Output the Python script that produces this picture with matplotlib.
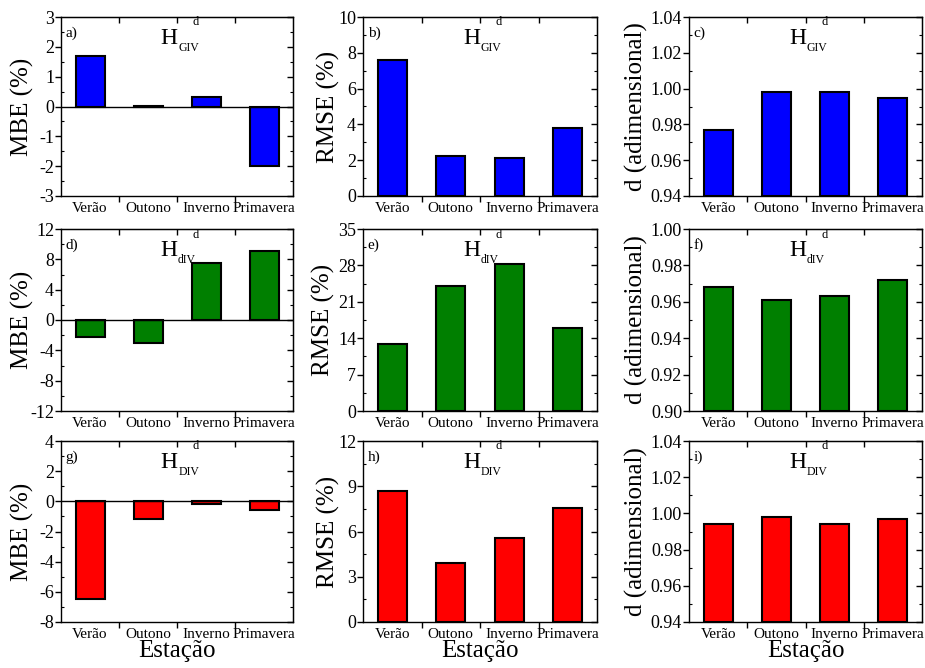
import matplotlib
matplotlib.use('Agg')
import matplotlib.pyplot as plt
import matplotlib.transforms as mtransforms
from matplotlib.ticker import MultipleLocator, FormatStrFormatter
import numpy as np

plt.rcParams['font.family'] = 'Liberation Serif'
plt.rcParams['axes.unicode_minus'] = False

estacoes = ['Verão', 'Outono', 'Inverno', 'Primavera']

# linha 1: H_GIV
mbe_giv = [1.68, 0.02, 0.31, -2.0]
rmse_giv = [7.57, 2.25, 2.13, 3.78]
d_giv = [0.977, 0.998, 0.998, 0.995]
# linha 2: H_dIV
mbe_div = [-2.25, -3.05, 7.55, 9.15]
rmse_div = [12.9, 24.1, 28.3, 16.0]
d_div = [0.968, 0.961, 0.963, 0.972]
# linha 3: H_DIV
mbe_DIV = [-6.5, -1.15, -0.15, -0.6]
rmse_DIV = [8.68, 3.92, 5.6, 7.55]
d_DIV = [0.994, 0.998, 0.994, 0.997]

linhas = [
    ('GIV', '#0000FF', [mbe_giv, rmse_giv, d_giv]),
    ('dIV', '#007F00', [mbe_div, rmse_div, d_div]),
    ('DIV', '#FF0000', [mbe_DIV, rmse_DIV, d_DIV]),
]
letras = ['a)', 'b)', 'c)', 'd)', 'e)', 'f)', 'g)', 'h)', 'i)']
ylabels = ['MBE (%)', 'RMSE (%)', 'd (adimensional)']
# (ymin, ymax, major, minor, formato)
escalas = [
    [(-3, 3, 1, 0.5, '%d'), (0, 10, 2, 1, '%d'), (0.94, 1.04, 0.02, 0.01, '%.2f')],
    [(-12, 12, 4, 2, '%d'), (0, 35, 7, 3.5, '%d'), (0.90, 1.00, 0.02, 0.01, '%.2f')],
    [(-8, 4, 2, 1, '%d'), (0, 12, 3, 1.5, '%d'), (0.94, 1.04, 0.02, 0.01, '%.2f')],
]

W, H = 925, 668
fig = plt.figure(figsize=(W / 100, H / 100), dpi=100)

col_px = [(61, 232), (363, 234), (689, 233)]
row_px = [(17, 196), (229, 411), (441, 622)]
ylab_x = [[-0.116, -0.098, -0.176],
          [-0.116, -0.12, -0.176],
          [-0.116, -0.098, -0.176]]

x = np.arange(1, 5)
for r, (sub, cor, series) in enumerate(linhas):
    for c in range(3):
        left, width = col_px[c]
        top, bottom = row_px[r]
        ax = fig.add_axes([left / W, 1 - bottom / H, width / W, (bottom - top) / H])
        vals = np.array(series[c])
        ymin, ymax, maj, mnr, fmt = escalas[r][c]
        base = ymin if c == 2 else 0
        ax.bar(x, vals - base, width=0.5, bottom=base, color=cor,
               edgecolor='black', linewidth=1.5, zorder=2)
        if c == 0:
            ax.axhline(0, color='black', lw=1, zorder=3)
        ax.set_xlim(0.5, 4.5)
        ax.set_ylim(ymin, ymax)
        ax.yaxis.set_major_locator(MultipleLocator(maj))
        ax.yaxis.set_minor_locator(MultipleLocator(mnr))
        ax.yaxis.set_major_formatter(FormatStrFormatter(fmt))
        ax.set_xticks([1.5, 2.5, 3.5], minor=False)
        ax.set_xticks(x, minor=True)
        ax.set_xticklabels([])
        ax.set_xticklabels(estacoes, minor=True)
        ax.tick_params(axis='x', which='major', direction='out', length=4, width=1)
        ax.tick_params(axis='x', which='minor', length=0, labelsize=11, pad=4)
        ax.tick_params(axis='y', which='major', direction='out', length=4, width=1,
                       labelsize=13, pad=1)
        ax.tick_params(axis='y', which='minor', direction='in', length=2.5, width=0.8)
        # ticks no topo e na direita, para dentro
        ax2 = ax.secondary_yaxis('right')
        ax2.yaxis.set_major_locator(MultipleLocator(maj))
        ax2.yaxis.set_minor_locator(MultipleLocator(mnr))
        ax2.tick_params(which='major', direction='in', length=4, width=1, labelright=False)
        ax2.tick_params(which='minor', direction='in', length=2.5, width=0.8)
        ax3 = ax.secondary_xaxis('top')
        ax3.set_xticks([1.5, 2.5, 3.5])
        ax3.tick_params(direction='in', length=4, width=1, labeltop=False)
        for s in ax.spines.values():
            s.set_linewidth(1)

        ax.set_ylabel(ylabels[c], fontsize=18)
        ax.yaxis.set_label_coords(ylab_x[r][c], 0.5)
        if r == 2:
            ax.set_xlabel('Estação', fontsize=18)
            ax.xaxis.set_label_coords(0.5, -0.1)
            ax.xaxis.label.set_va('top')

        ax.text(0.02, 0.91, letras[r * 3 + c], transform=ax.transAxes,
                fontsize=11, va='center', ha='left')
        hx, hy = 0.43, 0.85
        ax.text(hx, hy, 'H', transform=ax.transAxes, fontsize=17, va='baseline')
        t_sub = mtransforms.offset_copy(ax.transAxes, fig=fig, x=12.5, y=-5, units='points')
        ax.text(hx, hy, sub, transform=t_sub, fontsize=8.5, va='baseline')
        t_sup = mtransforms.offset_copy(ax.transAxes, fig=fig, x=23, y=13.5, units='points')
        ax.text(hx, hy, 'd', transform=t_sup, fontsize=9, va='baseline')

fig.savefig('out.png', dpi=100)
